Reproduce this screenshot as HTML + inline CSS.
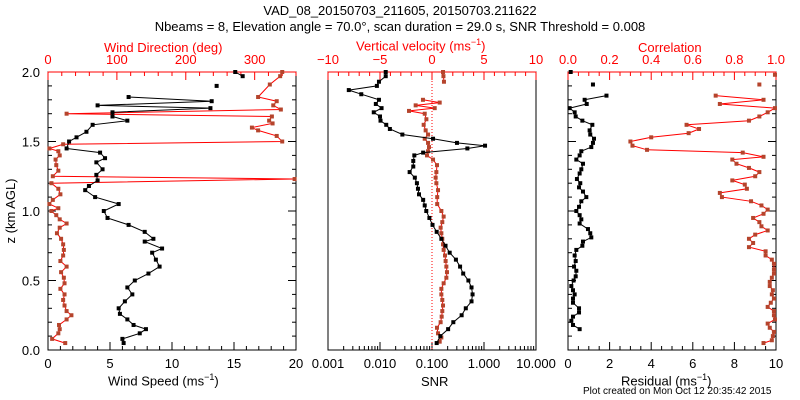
<!DOCTYPE html>
<html><head><meta charset="utf-8">
<style>
html,body{margin:0;padding:0;background:#fff;}
svg{display:block;font-family:"Liberation Sans",sans-serif;}
</style></head>
<body>
<svg id="chart" width="800" height="400" viewBox="0 0 800 400"></svg>
<script>
// ---- data ----
const speedZ=[0.05,0.08,0.12,0.15,0.18,0.22,0.26,0.30,0.35,0.40,0.45,0.50,0.55,0.60,0.65,0.70,0.73,0.78,0.80,0.85,0.90,0.95,1.0,1.05,1.10,1.15,1.18,1.22,1.26,1.30,1.35,1.38,1.42,1.45,1.50,1.53,1.57,1.62,1.65,1.68,1.71,1.74,1.76,1.79,1.82,null,1.90,null,1.97,2.0];
const speedVal=[6.1,6.0,7.4,7.9,6.9,6.4,5.8,5.7,6.2,6.8,6.4,7.0,8.1,9.0,8.7,8.4,9.2,7.8,8.5,7.8,6.5,4.8,4.5,5.7,3.8,3.0,3.3,4.0,3.9,4.4,3.9,4.6,4.2,1.5,1.7,2.3,3.1,3.6,6.4,5.2,5.2,13.1,4.0,13.2,6.5,null,13.6,null,15.7,15.1];
const dirZ=[0.05,0.08,0.12,0.15,0.18,0.22,0.25,0.28,0.32,0.36,0.40,0.44,0.48,0.52,0.56,0.60,0.64,0.68,0.72,0.76,0.80,0.84,0.88,0.91,0.94,0.97,1.00,1.02,1.05,1.08,1.12,1.16,1.20,1.23,1.25,1.29,1.33,1.37,1.40,1.43,1.45,1.48,1.50,1.54,1.58,1.60,1.63,1.65,1.68,1.70,1.73,1.76,1.79,1.82,1.91,1.97,2.00];
const dirVal=[25,6,15,17,16,27,34,27,24,22,24,18,24,23,19,27,18,22,23,22,19,13,17,27,17,12,5,15,2,7,18,15,5,358,7,15,12,11,17,15,2,22,340,332,305,296,326,321,325,27,338,327,332,305,322,337,340];
const snrZ=[2.0,1.97,1.93,1.90,1.87,1.84,1.80,1.77,1.74,1.71,1.68,1.65,1.62,1.59,1.55,1.52,1.49,1.47,1.45,1.42,1.40,1.36,1.32,1.28,1.24,1.20,1.16,1.12,1.08,1.04,1.00,0.95,0.90,0.85,0.80,0.75,0.70,0.65,0.60,0.55,0.50,0.45,0.40,0.35,0.30,0.25,0.20,0.15,0.10,0.05];
const snrLog=[-1.89,-1.89,-2.02,-2.06,-2.60,-2.36,-2.02,-2.08,-1.97,-2.12,-2.00,-1.99,-1.88,-1.81,-1.57,-0.98,-0.52,0.02,-0.32,-1.17,-1.34,-1.36,-1.36,-1.43,-1.33,-1.29,-1.27,-1.25,-1.17,-1.14,-1.11,-1.05,-0.99,-0.91,-0.82,-0.74,-0.66,-0.54,-0.46,-0.40,-0.30,-0.24,-0.22,-0.24,-0.35,-0.43,-0.59,-0.69,-0.84,-0.91];
const wZ=[2.0,1.97,1.93,null,1.80,1.78,1.76,1.74,1.72,1.70,1.66,1.62,1.58,1.55,1.52,1.49,1.46,1.43,1.40,1.37,1.33,1.28,1.24,1.20,1.15,1.10,1.05,1.00,0.96,0.92,0.88,0.84,0.80,0.76,0.72,0.68,0.64,0.60,0.56,0.52,0.48,0.44,0.40,0.36,0.32,0.28,0.24,0.20,0.16,0.12,0.09,0.06];
const wVal=[1.06,1.1,1.15,null,-0.87,0.74,-1.57,0.26,-2.21,-0.70,-0.54,-0.80,-0.61,-0.38,-0.70,-0.38,-0.29,-0.38,-0.48,0.10,0.48,0.42,0.35,0.42,0.58,0.5,0.5,0.90,1.12,0.99,0.83,0.90,0.99,1.06,1.12,1.25,1.31,1.38,1.44,1.38,1.12,0.90,0.90,0.99,1.06,0.99,0.93,0.83,0.48,0.58,0.90,0.74];
const resZ=[2.0,null,1.91,null,1.83,1.80,1.77,1.74,1.71,1.68,1.65,1.62,1.58,1.55,1.52,1.49,1.46,1.43,1.40,1.37,1.34,1.30,1.27,1.23,1.20,1.17,1.14,1.10,1.07,1.03,1.00,0.97,0.94,0.91,0.87,0.84,0.81,0.78,0.75,0.72,0.68,0.64,0.60,0.57,0.53,0.50,0.46,0.43,0.40,0.37,0.34,0.30,0.27,0.24,0.21,0.18,0.15];
const resVal=[0.13,null,1.2,null,1.85,0.8,0.9,0.08,0.32,0.37,0.69,1.17,1.04,1.07,1.25,1.2,1.12,0.64,0.56,0.4,0.72,0.64,0.56,0.43,0.59,0.53,0.72,0.88,0.64,0.53,0.4,0.56,0.64,0.56,0.96,1.07,1.12,0.72,0.69,0.4,0.32,0.37,0.29,0.4,0.37,0.27,0.16,0.24,0.32,0.24,0.24,0.53,0.53,0.24,0.16,0.24,0.56];
const corZ=[1.98,null,1.91,null,1.83,1.80,1.77,1.74,1.71,1.68,1.65,1.62,1.59,1.56,1.53,1.50,1.47,1.44,1.42,1.39,1.37,1.34,1.31,1.28,1.25,1.22,1.19,1.16,1.13,1.10,1.07,1.04,1.01,0.98,0.95,0.92,0.89,0.86,0.83,0.80,0.77,0.74,0.71,0.68,0.65,0.62,0.58,0.55,0.52,0.49,0.46,0.43,0.40,0.37,0.34,0.31,0.28,0.25,0.22,0.19,0.16,0.13,0.10,0.07,0.05];
const corVal=[0.995,null,0.92,null,0.71,0.94,0.73,0.995,0.96,0.92,0.87,0.57,0.63,0.58,0.40,0.30,0.31,0.38,0.84,0.94,0.79,0.81,0.87,0.92,0.90,0.79,0.85,0.86,0.73,0.74,0.88,0.93,0.96,0.94,0.89,0.92,0.93,0.96,0.90,0.87,0.89,0.87,0.95,0.95,0.98,0.99,0.99,0.99,0.98,0.97,0.97,0.985,0.98,0.99,0.975,0.96,0.99,0.99,0.995,0.96,0.97,0.99,0.985,0.98,0.94];
const zTicks=["0.0","0.5","1.0","1.5","2.0"];
const spdTicks=["0","5","10","15","20"];
const dirTicks=["0","100","200","300"];
const wTicks=["\u221210","\u22125","0","5","10"];
const snrTicks=["0.001","0.010","0.100","1.000","10.000"];
const resTicks=["0","2","4","6","8","10"];
const corTicks=["0.0","0.2","0.4","0.6","0.8","1.0"];

const NS="http://www.w3.org/2000/svg";
const svg=document.getElementById('chart');
const TOP=72,BOT=350;
const yz=z=>BOT-(z/2.0)*(BOT-TOP);
const P1=[48,296],P2=[328,536],P3=[568,776];
const lin=(p,a,b)=>v=>p[0]+(v-a)/(b-a)*(p[1]-p[0]);
const xSpd=lin(P1,0,20), xDir=lin(P1,0,360);
const xSnr=lin(P2,-3,1), xW=lin(P2,-10,10);
const xRes=lin(P3,0,10), xCor=lin(P3,0,1);
const RED="#ff0000", BROWN="#b5442c";

function mk(tag,attrs,parent){const e=document.createElementNS(NS,tag);for(const k in attrs)e.setAttribute(k,attrs[k]);(parent||svg).appendChild(e);return e;}
function txt(s,x,y,opts,name){const t=mk('text',Object.assign({x:x,y:y,'font-size':13,'text-anchor':'middle',fill:'#000'},opts||{}));t.textContent=s;


return t;}

function series(zs,vs,xf,lineCol,markCol,name){
  const g=mk('g',{});
  
  
  let seg=[];
  const flush=()=>{if(seg.length>1){const pl=mk('polyline',{points:seg.join(' '),fill:'none',stroke:lineCol,'stroke-width':1},g);
    
    }seg=[];};
  for(let i=0;i<zs.length;i++){
    if(zs[i]===null||vs[i]===null){flush();continue;}
    seg.push(xf(vs[i]).toFixed(1)+','+yz(zs[i]).toFixed(1));
  }
  flush();
  for(let i=0;i<zs.length;i++){
    if(zs[i]===null||vs[i]===null)continue;
    const c=mk('rect',{x:xf(vs[i])-2,y:yz(zs[i])-2,width:4,height:4,fill:markCol},g);
    
    
  }
}

function panel(P,name){
  const r=mk('rect',{x:P[0],y:TOP,width:P[1]-P[0],height:BOT-TOP,fill:'none',stroke:'#000','stroke-width':1});
  
  
}
function tick(x1,y1,x2,y2,col){mk('line',{x1:x1,y1:y1,x2:x2,y2:y2,stroke:col,'stroke-width':1});}

panel(P1,'wind-panel');panel(P2,'snr-panel');panel(P3,'residual-panel');
[P1,P3].forEach(P=>{
  for(let k=0;k<=20;k++){const z=k*0.1,len=(k%5===0)?8:4,y=yz(z);
    tick(P[0],y,P[0]+len,y,'#000');tick(P[1],y,P[1]-len,y,'#000');}
});
zTicks.forEach(s=>txt(s,40,yz(parseFloat(s))+5,{'text-anchor':'end'},'y-tick-label'));
txt('z (km AGL)',0,0,{transform:'translate(15,211) rotate(-90)'},'y-axis-title');

for(let v=0;v<=20;v++){const x=xSpd(v);tick(x,BOT,x,BOT-(v%5===0?8:4),'#000');}
spdTicks.forEach(s=>txt(s,xSpd(+s),368,{},'wind-speed-tick-label'));
for(let v=0;v<=360;v+=20){const x=xDir(v);tick(x,TOP,x,TOP+(v%100===0?8:4),RED);}
tick(P1[0],TOP,P1[1],TOP,RED);
dirTicks.forEach(s=>txt(s,xDir(+s),64,{fill:RED},'wind-direction-tick-label'));
for(let d=-3;d<=1;d++){const x=xSnr(d);tick(x,BOT,x,BOT-8,'#000');
  if(d<1)for(let m=2;m<=9;m++){const xm=xSnr(d+Math.log10(m));tick(xm,BOT,xm,BOT-4,'#000');}}
snrTicks.forEach((s,i)=>txt(s,xSnr(-3+i),368,{},'snr-tick-label'));
for(let v=-10;v<=10;v++){const x=xW(v);tick(x,TOP,x,TOP+(v%5===0?8:4),RED);}
tick(P2[0],TOP,P2[1],TOP,RED);
wTicks.forEach((s,i)=>txt(s,xW(-10+5*i),64,{fill:RED},'vertical-velocity-tick-label'));
const zl=mk('line',{x1:xW(0),y1:TOP,x2:xW(0),y2:BOT,stroke:RED,'stroke-width':1,'stroke-dasharray':'1,2'});


for(let v=0;v<=20;v++){const x=xRes(v/2);tick(x,BOT,x,BOT-(v%4===0?8:4),'#000');}
resTicks.forEach(s=>txt(s,xRes(+s),368,{},'residual-tick-label'));
for(let v=0;v<=20;v++){const x=xCor(v/20);tick(x,TOP,x,TOP+(v%4===0?8:4),RED);}
tick(P3[0],TOP,P3[1],TOP,RED);
corTicks.forEach(s=>txt(s,xCor(+s),64,{fill:RED},'correlation-tick-label'));

series(dirZ,dirVal,xDir,RED,BROWN,'wind-direction-series');
series(speedZ,speedVal,xSpd,'#000','#000','wind-speed-series');
series(wZ,wVal,xW,RED,BROWN,'vertical-velocity-series');
series(snrZ,snrLog,xSnr,'#000','#000','snr-series');
series(corZ,corVal,xCor,RED,BROWN,'correlation-series');
series(resZ,resVal,xRes,'#000','#000','residual-series');
</script>
<div style="position:absolute;left:0;top:0;width:800px;height:400px;pointer-events:none;font-family:'Liberation Sans',sans-serif;color:#000">
  <div style="position:absolute;left:0;width:800px;top:3px;text-align:center;font-size:13px">VAD_08_20150703_211605, 20150703.211622</div>
  <div style="position:absolute;left:0;width:800px;top:19px;text-align:center;font-size:13px">Nbeams = 8, Elevation angle = 70.0°, scan duration = 29.0 s, SNR Threshold = 0.008</div>
  <div style="position:absolute;left:104px;top:40px;font-size:13px;color:#f00">Wind Direction (deg)</div>
  <div style="position:absolute;left:356px;top:37px;font-size:13px;color:#f00">Vertical velocity (ms<sup style="font-size:9px">−1</sup>)</div>
  <div style="position:absolute;left:638px;top:40px;font-size:13px;color:#f00">Correlation</div>
  <div style="position:absolute;left:108px;top:372px;font-size:13px">Wind Speed (ms<sup style="font-size:9px">−1</sup>)</div>
  <div style="position:absolute;left:421px;top:374px;font-size:13px">SNR</div>
  <div style="position:absolute;left:621px;top:372px;font-size:13px">Residual (ms<sup style="font-size:9px">−1</sup>)</div>
  <div style="position:absolute;left:583px;top:386px;font-size:10px">Plot created on Mon Oct 12 20:35:42 2015</div>
</div>
</body></html>
